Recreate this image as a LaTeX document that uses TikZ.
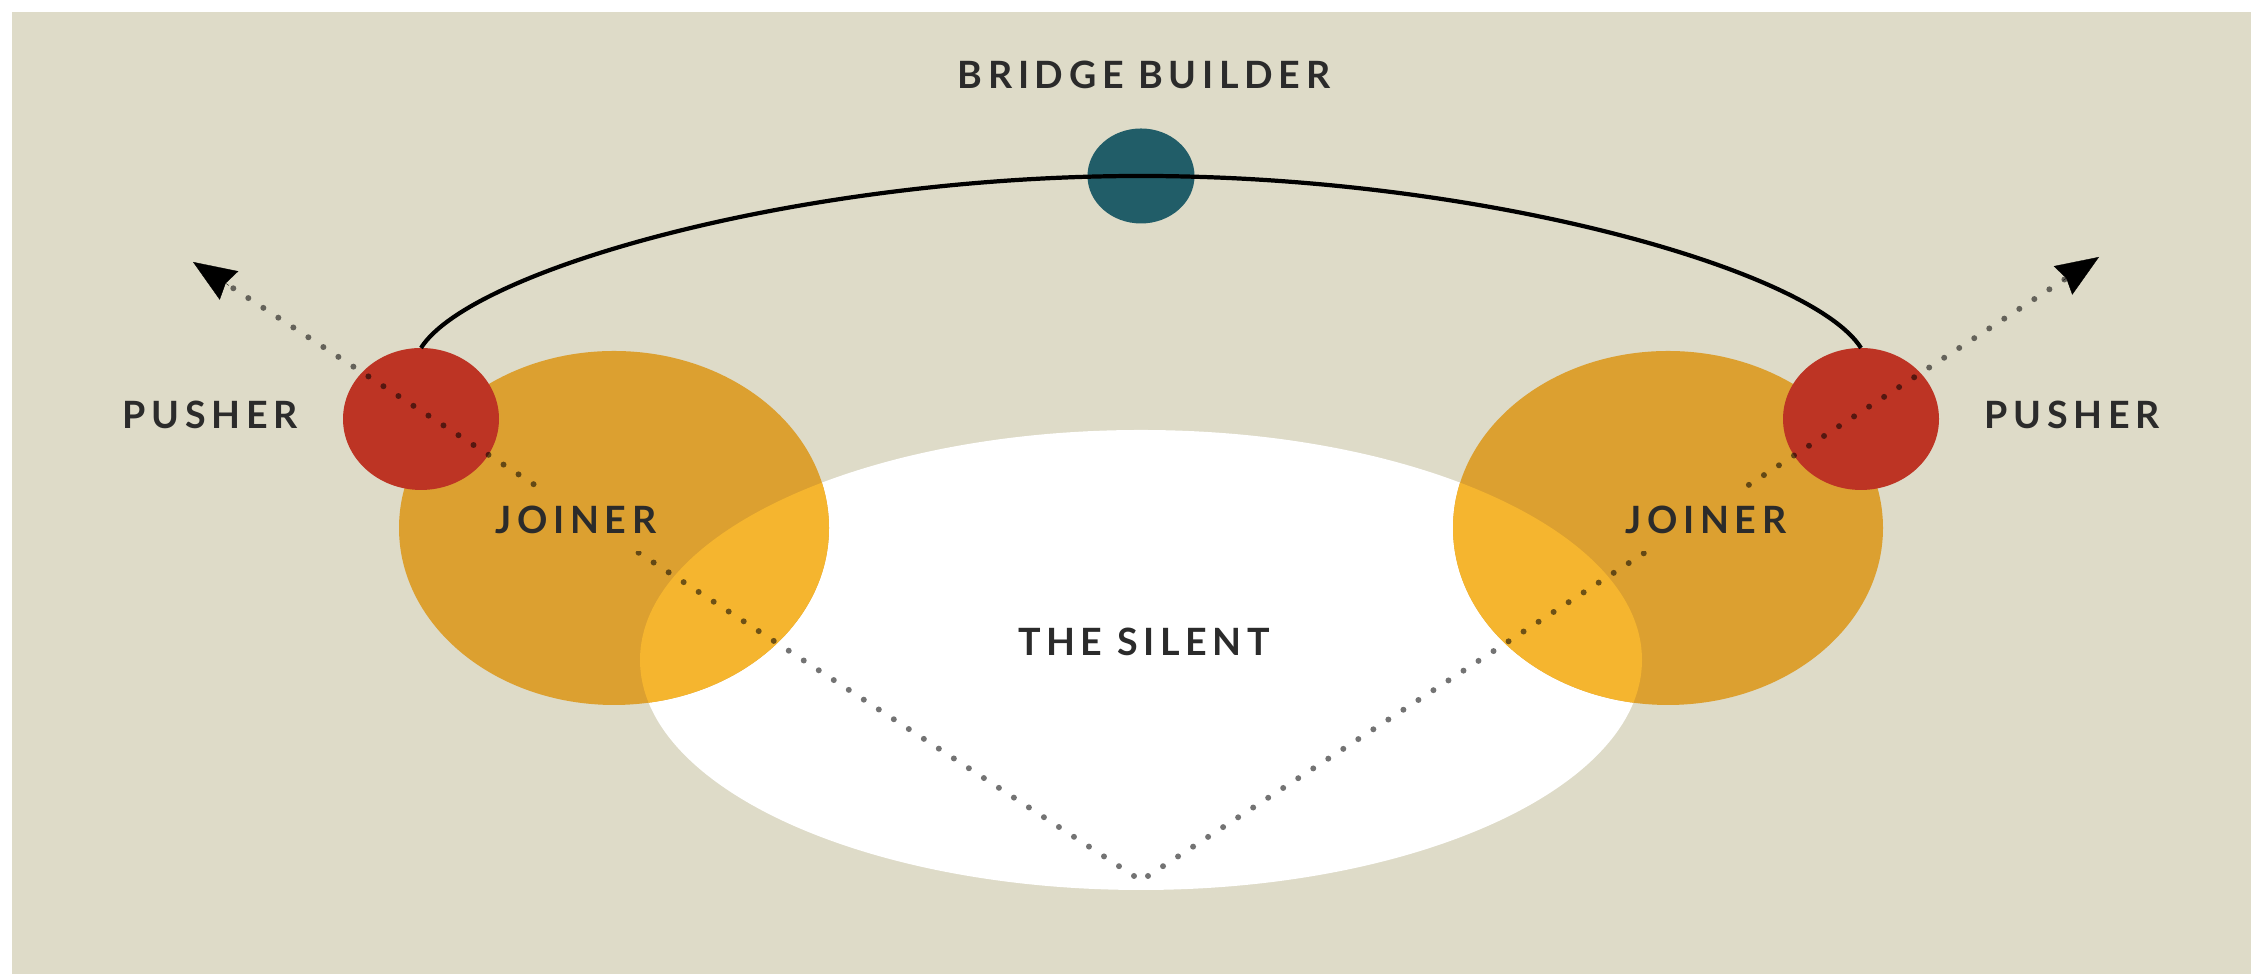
\documentclass[tikz,border=0pt]{standalone}
\usepackage{fontspec}
\setmainfont{Lato}
\newfontfamily\labfont[LetterSpace=15]{Lato Bold}
\usetikzlibrary{shapes.geometric,arrows.meta,calc}
\definecolor{beigebg}{HTML}{DEDBC8}
\definecolor{redc}{HTML}{BD3424}
\definecolor{orangec}{HTML}{DCA030}
\definecolor{yellowc}{HTML}{F5B52F}
\definecolor{tealc}{HTML}{215D68}
\definecolor{textc}{HTML}{2B2B2B}
\tikzset{
  blob/.style={ellipse, inner sep=0pt, outer sep=0pt, draw=none},
  lab/.style={font=\labfont\fontsize{10.7}{13}\selectfont, text=textc, inner sep=0pt},
  joinlab/.style={lab, fill=orangec, minimum width=1.7cm, minimum height=0.62cm},
  dotline/.style={line width=1.7pt, line cap=round, dash pattern=on 0pt off 5.1pt, draw=black, draw opacity=0.55},
  tiparrow/.style={-{Stealth[length=0.43cm, width=0.34cm, inset=0.04cm]}, black, line width=0.1pt},
  arcline/.style={line width=1.2pt, draw=black}
}
\begin{document}
\begin{tikzpicture}
\useasboundingbox (0,0) rectangle (22.51,9.74);
\fill[white] (0,0) rectangle (22.51,9.74);
\fill[beigebg] (0.12,0) rectangle (22.51,9.62);
% the silent
\node[blob, fill=white, minimum width=10.02cm, minimum height=4.60cm] (silent) at (11.41,3.14) {};
% joiners
\node[blob, fill=orangec, minimum width=4.30cm, minimum height=3.54cm] (joinL) at (6.14,4.46) {};
\node[blob, fill=orangec, minimum width=4.30cm, minimum height=3.54cm] (joinR) at (16.68,4.46) {};
\begin{scope}
  \clip (silent.center) ellipse [x radius=5.01cm, y radius=2.30cm];
  \fill[yellowc] (joinL.center) ellipse [x radius=2.15cm, y radius=1.77cm];
  \fill[yellowc] (joinR.center) ellipse [x radius=2.15cm, y radius=1.77cm];
\end{scope}
% pushers
\node[blob, fill=redc, minimum width=1.56cm, minimum height=1.42cm] (pushL) at (4.21,5.55) {};
\node[blob, fill=redc, minimum width=1.56cm, minimum height=1.42cm] (pushR) at (18.61,5.55) {};
% bridge builder
\node[blob, fill=tealc, minimum width=1.07cm, minimum height=0.95cm] (bridge) at (11.41,7.98) {};
\draw[arcline] (pushL.north) .. controls +(0.49,0.78) and +(-3.41,0) .. (bridge.center)
  .. controls +(3.41,0) and +(-0.49,0.78) .. (pushR.north);
% dotted directions
\coordinate (apexL) at (11.34,0.98);
\coordinate (apexR) at (11.48,0.98);
\coordinate (tipL) at (1.93,7.12);
\coordinate (tipR) at (20.99,7.17);
\draw[dotline] (apexL) -- ($(tipL)!0.40cm!(apexL)$);
\draw[dotline] (apexR) -- ($(tipR)!0.40cm!(apexR)$);
\draw[tiparrow] ($(tipL)!0.43cm!(apexL)$) -- (tipL);
\draw[tiparrow] ($(tipR)!0.43cm!(apexR)$) -- (tipR);
% labels
\node[lab] (tBridge) at (11.44,8.99) {BRIDGE BUILDER};
\node[lab] (tPushL) at (2.10,5.59) {PUSHER};
\node[lab] (tPushR) at (20.72,5.59) {PUSHER};
\node[joinlab] (tJoinL) at (5.76,4.54) {JOINER};
\node[joinlab] (tJoinR) at (17.06,4.54) {JOINER};
\node[lab] (tSilent) at (11.44,3.32) {THE SILENT};
\end{tikzpicture}
\end{document}
